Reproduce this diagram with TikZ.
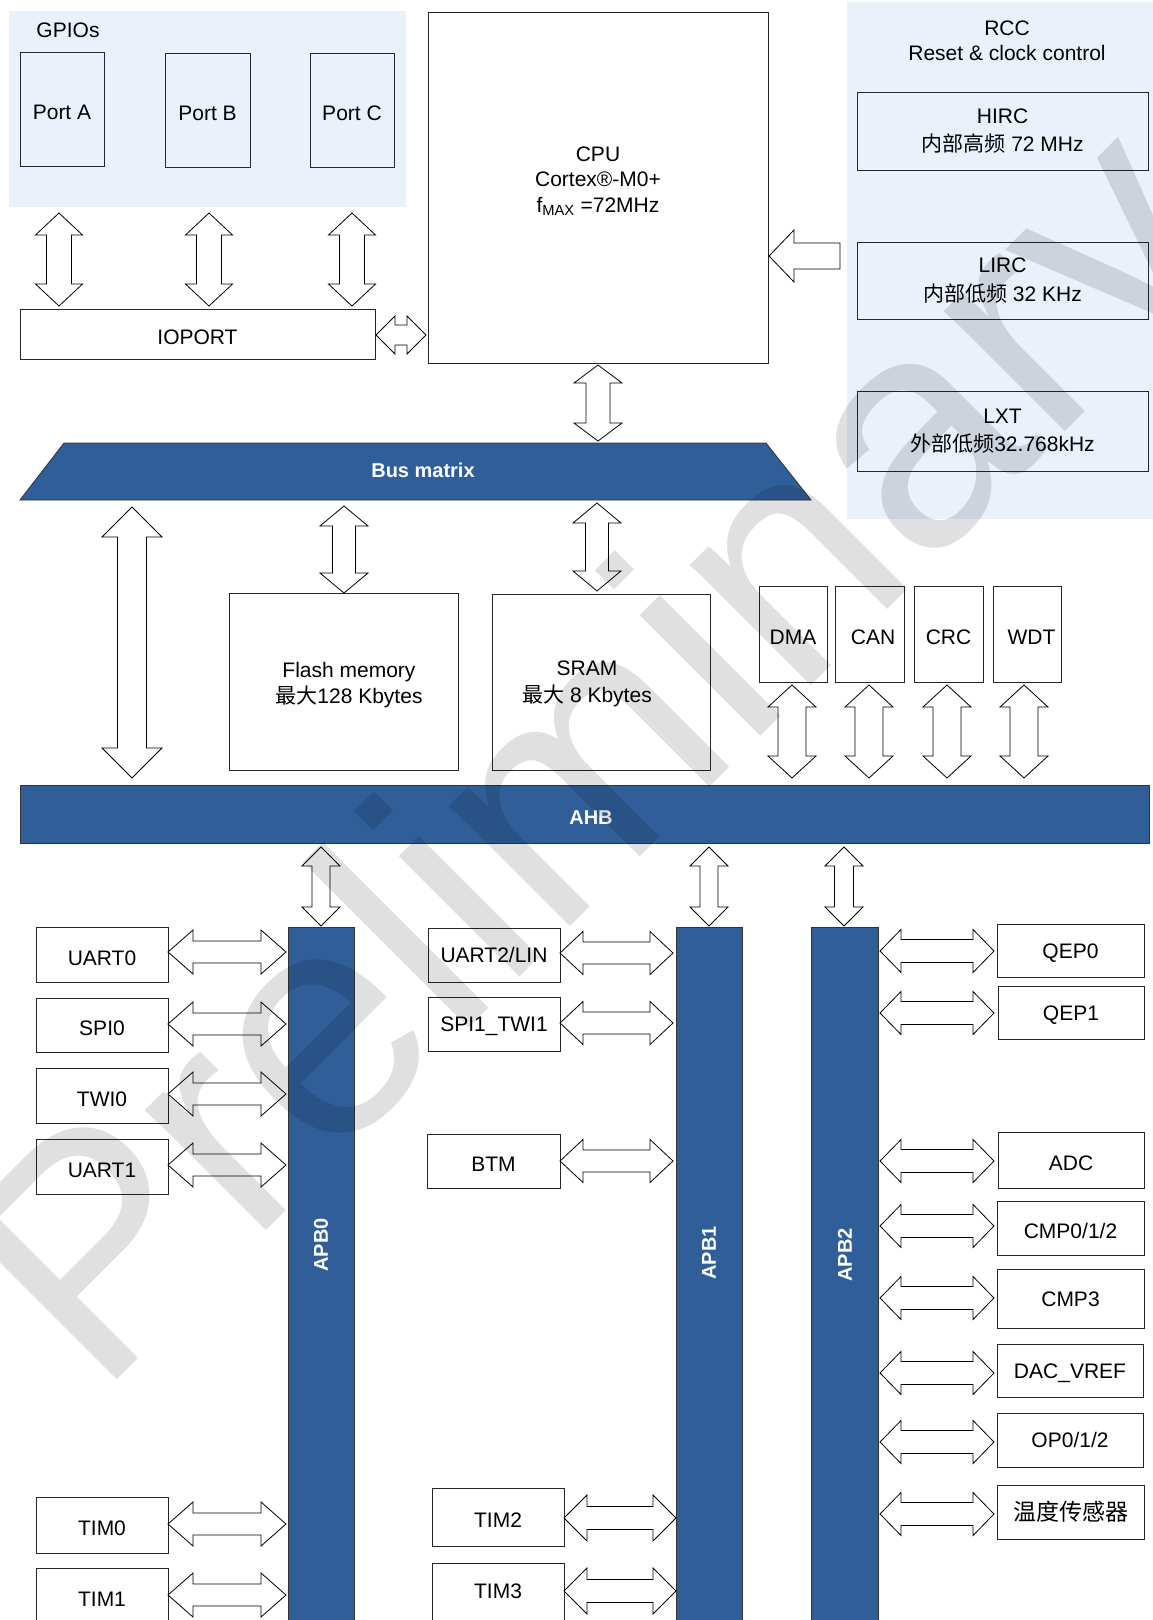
\documentclass[tikz,border=0pt]{standalone}
\usepackage{fontspec}
\setmainfont{Liberation Sans}
\newfontfamily\cjk{Noto Sans CJK SC}
\definecolor{busblue}{RGB}{47,94,153}
\definecolor{bgblue}{RGB}{234,241,251}
\newcommand\fs{\fontsize{21}{25.5}\selectfont}
\tikzset{
  box/.style={draw=black!85, line width=0.9pt, inner sep=0pt, align=center, font=\fs},
  sl/.style={text height=21pt, text depth=0pt},
  slh/.style={text height=15pt, text depth=0pt},
  barrow/.style={draw=black, line width=0.8pt, fill=white, line join=miter},
  bus/.style={draw=black!80, line width=0.8pt, fill=busblue, inner sep=0pt},
  lbl/.style={align=center, font=\fs, inner sep=0pt},
  buslbl/.style={text=white, font=\bfseries\fontsize{20}{24}\selectfont, inner sep=0pt},
  bgpanel/.style={fill=bgblue, inner sep=0pt, draw=none},
}
% box by corners: [style], name, x1, y1, x2, y2, text
\newcommand\bx[7][sl]{\node[box, #1, minimum width={#5-#3}, minimum height={#6-#4}] (#2) at ({(#3+#5)/2},{(#4+#6)/2}) {#7};}
% vertical double block arrow: x, ytop, ybot, head half width, shaft half width, head length
\newcommand\varr[6]{\draw[barrow] (#1,#2) -- ({#1+#4},{#2+#6}) -- ({#1+#5},{#2+#6}) -- ({#1+#5},{#3-#6}) -- ({#1+#4},{#3-#6}) -- (#1,#3) -- ({#1-#4},{#3-#6}) -- ({#1-#5},{#3-#6}) -- ({#1-#5},{#2+#6}) -- ({#1-#4},{#2+#6}) -- cycle;}
% horizontal double block arrow: y, xleft, xright, head half height, shaft half height, head length
\newcommand\harr[6]{\draw[barrow] (#2,#1) -- ({#2+#6},{#1-#4}) -- ({#2+#6},{#1-#5}) -- ({#3-#6},{#1-#5}) -- ({#3-#6},{#1-#4}) -- (#3,#1) -- ({#3-#6},{#1+#4}) -- ({#3-#6},{#1+#5}) -- ({#2+#6},{#1+#5}) -- ({#2+#6},{#1+#4}) -- cycle;}
\begin{document}
\begin{tikzpicture}[x=1pt,y=-1pt]
\useasboundingbox (0,0) rectangle (1153,1620);
\clip (0,0) rectangle (1153,1620);
\fill[white] (0,0) rectangle (1153,1620);

% panels
\node[bgpanel, minimum width=397pt, minimum height=196pt] (gpio) at (207.5,109) {};
\node[lbl] (gpiot) at (68,30) {GPIOs};
\node[bgpanel, minimum width=306pt, minimum height=517pt] (rcc) at (1000,260.5) {};
\node[lbl, font=\fontsize{21}{25}\selectfont] (rcct) at (1007,40.5) {RCC\\Reset \& clock control};

% GPIO ports and IOPORT
\bx{pa}{20}{52}{104}{166}{Port A}
\bx{pb}{165}{53}{250}{167}{Port B}
\bx{pc}{310}{53}{394}{167}{Port C}
\bx{io}{20}{309}{375}{359}{IOPORT}

% CPU
\bx[]{cpu}{428}{12}{768}{363}{}
\node[lbl] (cput) at (598,181) {CPU\\Cortex®-M0+\\f\textsubscript{MAX} =72MHz};

% clocks
\bx[]{hirc}{857}{92}{1148}{170}{HIRC\\[3pt]{\cjk 内部高频} 72 MHz}
\bx[]{lirc}{857}{242}{1148}{319}{LIRC\\[3pt]{\cjk 内部低频} 32 KHz}
\bx[]{lxt}{857}{391}{1148}{471}{LXT\\[3pt]{\cjk 外部低频}32.768kHz}

% memories and AHB masters
\bx[]{flash}{229}{593}{458}{770}{}
\node[lbl] (flasht) at (349,685) {Flash memory\\[1pt]{\cjk 最大}128 Kbytes};
\bx[]{sram}{492}{594}{710}{770}{}
\node[lbl] (sramt) at (587,684) {SRAM\\[1pt]{\cjk 最大} 8 Kbytes};
\bx{dma}{759}{586}{827}{682}{DMA}
\bx{can}{835}{586}{904}{682}{\hspace*{7pt}CAN}
\bx{crc}{914}{586}{983}{682}{CRC}
\bx{wdt}{993}{586}{1061}{682}{\hspace*{9pt}WDT}

% APB0 peripherals
\bx{uart0}{36}{927}{168}{982}{UART0}
\bx{spi0}{36}{998}{168}{1052}{SPI0}
\bx{twi0}{36}{1068}{168}{1123}{TWI0}
\bx{uart1}{36}{1139}{168}{1194}{UART1}
\bx{tim0}{36}{1497}{168}{1553}{TIM0}
\bx[]{tim1}{36}{1568}{168}{1640}{}
\node[lbl] (tim1t) at (102,1599) {TIM1};

% APB1 peripherals
\bx[slh]{uart2}{428}{928}{560}{982}{UART2/LIN}
\bx[slh]{spi1}{428}{997}{560}{1051}{SPI1\_TWI1}
\bx{btm}{427}{1134}{560}{1188}{BTM}
\bx{tim2}{432}{1488}{564}{1546}{TIM2}
\bx[]{tim3}{432}{1563}{564}{1640}{}
\node[lbl] (tim3t) at (498,1591) {TIM3};

% APB2 peripherals
\bx[slh]{qep0}{997}{924}{1144}{977}{QEP0}
\bx[slh]{qep1}{998}{986}{1144}{1039}{QEP1}
\bx{adc}{998}{1132}{1144}{1188}{ADC}
\bx{cmp012}{997}{1201}{1144}{1255}{CMP0/1/2}
\bx[slh]{cmp3}{997}{1269}{1144}{1328}{CMP3}
\bx[slh]{dac}{997}{1344}{1143}{1397}{DAC\_VREF}
\bx[slh]{op}{997}{1413}{1143}{1467}{OP0/1/2}
\bx[]{temp}{997}{1485}{1144}{1539}{{\cjk\fontsize{23}{26}\selectfont 温度传感器}}

% buses
\draw[bus] (20,500) -- (64,443) -- (766,443) -- (811,500) -- cycle;
\node[buslbl] (bmt) at (423,470) {Bus matrix};
\node[bus, minimum width=1129pt, minimum height=58pt] (ahb) at (584.5,814) {};
\node[buslbl] (ahbt) at (591,818) {AHB};
\node[bus, minimum width=66pt, minimum height=710pt] (apb0) at (321,1282) {};
\node[bus, minimum width=66pt, minimum height=710pt] (apb1) at (709,1282) {};
\node[bus, minimum width=67pt, minimum height=710pt] (apb2) at (844.5,1282) {};
\node[buslbl, rotate=90] (apb0t) at (321,1245) {APB0};
\node[buslbl, rotate=90] (apb1t) at (709,1253) {APB1};
\node[buslbl, rotate=90] (apb2t) at (845,1255) {APB2};

% block arrows
\varr{59}{213}{306}{23.5}{12.5}{22}
\varr{209}{213}{306}{23.5}{12.5}{22}
\varr{352}{213}{306}{23.5}{12.5}{22}
\harr{335}{376}{426}{19}{10}{19}
\draw[barrow] (769,256) -- (794,230) -- (794,243) -- (840,243) -- (840,269) -- (794,269) -- (794,282) -- cycle;
\varr{598}{365}{441}{24}{12}{18}
\varr{132}{507}{778}{30}{14.5}{30}
\varr{344}{506}{593}{24}{11.5}{20}
\varr{597}{503}{591}{24}{11.5}{20}
\varr{792}{685}{778}{24}{14}{22}
\varr{869}{685}{778}{24}{14}{22}
\varr{947}{685}{778}{24}{14}{22}
\varr{1024}{685}{778}{24}{14}{22}
\varr{321}{847}{926}{19}{9}{19}
\varr{709}{847}{926}{19}{9}{19}
\varr{844}{847}{926}{19}{9.5}{19}
% APB0
\harr{952}{168}{286}{22}{11}{25}
\harr{1024}{168}{286}{22}{11}{25}
\harr{1094}{168}{286}{22}{11}{25}
\harr{1165}{168}{286}{22}{11}{25}
\harr{1524}{168}{286}{22}{11}{25}
\harr{1595}{168}{286}{22}{11}{25}
% APB1
\harr{953}{560}{673}{21.5}{11}{23}
\harr{1023}{560}{673}{21.5}{11}{23}
\harr{1161}{560}{673}{21.5}{11}{23}
\harr{1518}{564}{676}{23}{11.5}{23}
\harr{1591}{564}{676}{23}{11.5}{23}
% APB2
\harr{951}{880}{994}{21.5}{11.5}{21}
\harr{1013}{880}{994}{21.5}{11.5}{21}
\harr{1161}{880}{994}{21.5}{11.5}{21}
\harr{1226}{880}{994}{21.5}{11.5}{21}
\harr{1298}{880}{994}{21.5}{11.5}{21}
\harr{1373}{880}{994}{21.5}{11.5}{21}
\harr{1442}{880}{994}{21.5}{11.5}{21}
\harr{1514}{880}{994}{21.5}{11.5}{21}

% watermark
\node[rotate=45, anchor=base west, inner sep=0pt, font=\fontsize{323}{323}\selectfont, text=black, text opacity=0.12] (wm) at (98,1399) {Preliminary};
\end{tikzpicture}
\end{document}
